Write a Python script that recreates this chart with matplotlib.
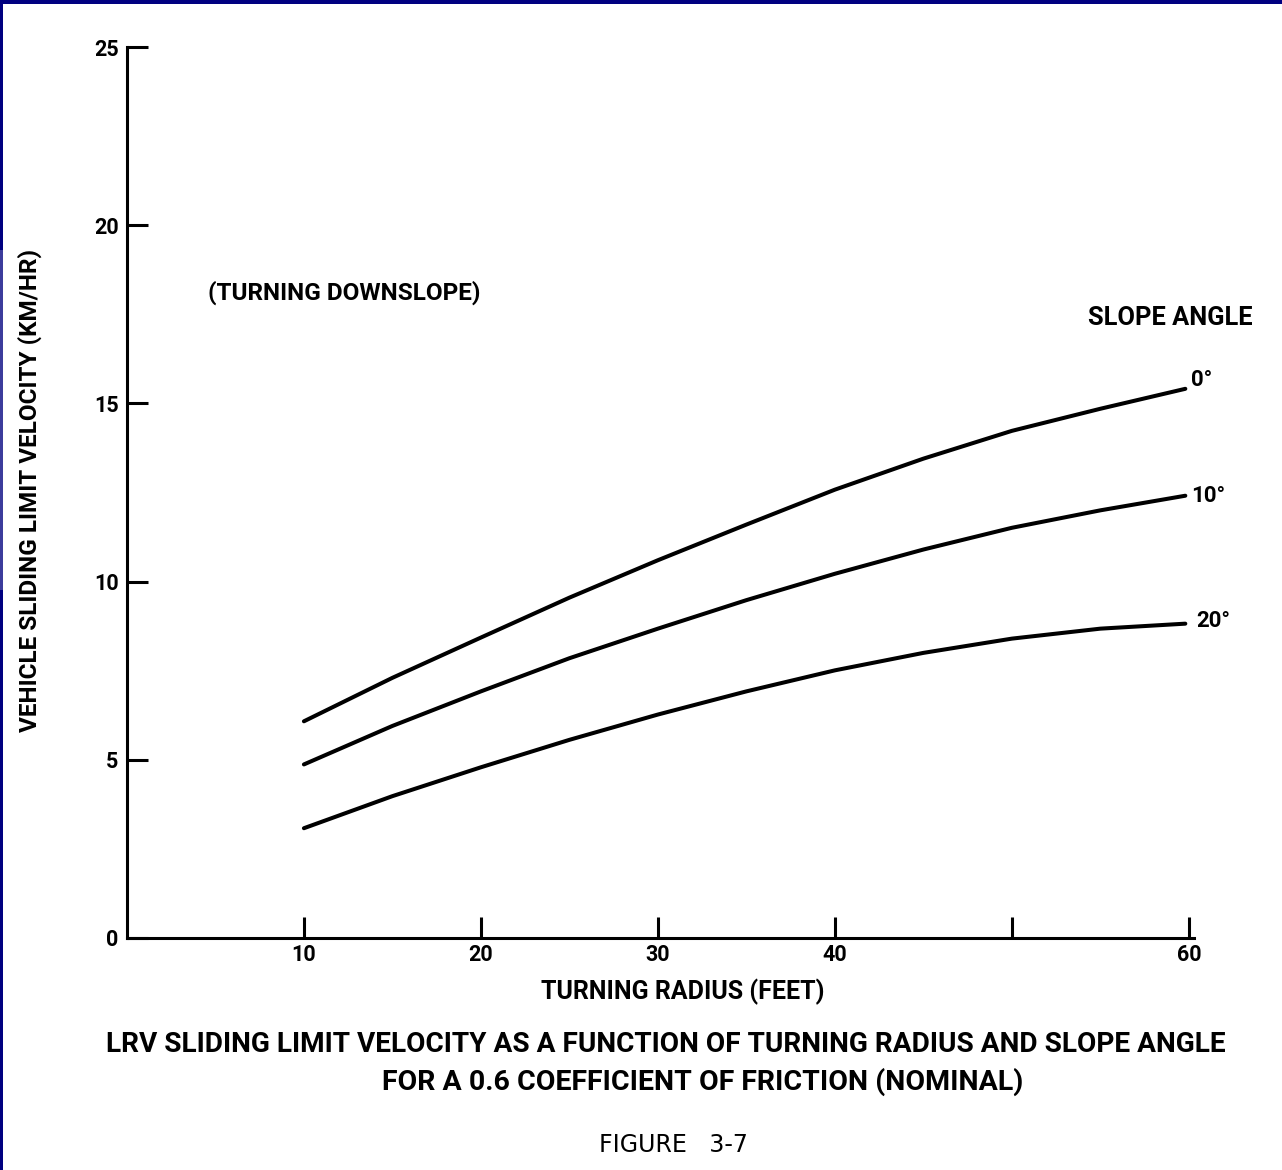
import matplotlib
matplotlib.use("Agg")
import matplotlib.pyplot as plt
from matplotlib.patches import Rectangle

# (km/hr vs feet)
radius = [10, 15, 20, 25, 30, 35, 40, 45, 50, 55, 59.8]
slope_labels = ["0°", "10°", "20°"]
vel_0 = [6.08, 7.30, 8.43, 9.55, 10.6, 11.6, 12.58, 13.45, 14.23, 14.85, 15.41]
vel_10 = [4.87, 5.95, 6.92, 7.85, 8.68, 9.48, 10.22, 10.9, 11.51, 12.0, 12.41]
vel_20 = [3.08, 3.98, 4.79, 5.56, 6.27, 6.92, 7.51, 8.0, 8.4, 8.68, 8.82]
x_ticks = [10, 20, 30, 40, 50, 60]
x_tick_labels = ["10", "20", "30", "40", "", "60"]
y_ticks = [0, 5, 10, 15, 20, 25]

FONT = ["Roboto", "DejaVu Sans"]
plt.rcParams["font.family"] = FONT

fig = plt.figure(figsize=(12.82, 11.7), dpi=100)
fig.patch.set_facecolor("white")
ax = fig.add_axes([0.099, 0.1983, 0.8325, 0.7615])

lw = 2.9
ax.plot(radius, vel_0, color="black", lw=lw, solid_capstyle="round")
ax.plot(radius, vel_10, color="black", lw=lw, solid_capstyle="round")
ax.plot(radius, vel_20, color="black", lw=lw, solid_capstyle="round")

offsets = [(4, 6), (4, 0), (8, 2)]
for lab, ys, off in zip(slope_labels, [vel_0, vel_10, vel_20], offsets):
    ax.annotate(lab, (radius[-1], ys[-1]), xytext=off, textcoords="offset points",
                ha="left", va="center", fontsize=16, fontweight="bold")

ax.set_xlim(0, 60.3)
ax.set_ylim(0, 25)
for s in ["top", "right"]:
    ax.spines[s].set_visible(False)
for s in ["left", "bottom"]:
    ax.spines[s].set_linewidth(2.2)

ax.set_xticks(x_ticks)
ax.set_xticklabels(x_tick_labels)
ax.set_yticks(y_ticks)
ax.set_yticklabels([str(v) for v in y_ticks])
ax.tick_params(axis="both", direction="in", length=15, width=2.2, labelsize=15.5)
ax.tick_params(axis="x", pad=4)
ax.tick_params(axis="y", pad=6)
for t in ax.get_xticklabels() + ax.get_yticklabels():
    t.set_fontweight("bold")

ax.set_xlabel("TURNING RADIUS (FEET)", fontsize=18, fontweight="bold")
ax.xaxis.set_label_coords(0.521, -0.046)
ax.set_ylabel("VEHICLE SLIDING LIMIT VELOCITY (KM/HR)", fontsize=17.5, fontweight="bold")
ax.yaxis.set_label_coords(-0.080, 0.502)

ax.text(4.6, 18.1, "(TURNING DOWNSLOPE)", fontsize=17.5, fontweight="bold", ha="left", va="center")
ax.text(54.3, 17.4, "SLOPE ANGLE", fontsize=18.3, fontweight="bold", ha="left", va="center", clip_on=False)

fig.text(0.519, 1 - 1045 / 1170, "LRV SLIDING LIMIT VELOCITY AS A FUNCTION OF TURNING RADIUS AND SLOPE ANGLE",
         ha="center", va="center", fontsize=20.2, fontweight="bold")
fig.text(0.548, 1 - 1082 / 1170, "FOR A 0.6 COEFFICIENT OF FRICTION (NOMINAL)",
         ha="center", va="center", fontsize=20.5, fontweight="bold")
fig.text(0.525, 1 - 1145 / 1170, "FIGURE   3-7", ha="center", va="center", fontsize=17,
         family=["DejaVu Sans"])

# navy frame of the slide
fig.add_artist(Rectangle((0, 1 - 4 / 1170), 1, 4 / 1170, transform=fig.transFigure,
                         color="#000080", lw=0))
fig.add_artist(Rectangle((0, 0), 3 / 1282, 1, transform=fig.transFigure, color="#000080", lw=0))
fig.add_artist(Rectangle((0, 1 - 590 / 1170), 3 / 1282, 340 / 1170, transform=fig.transFigure,
                         color="#3c3c9c", lw=0))

fig.savefig("out.png", dpi=100)
